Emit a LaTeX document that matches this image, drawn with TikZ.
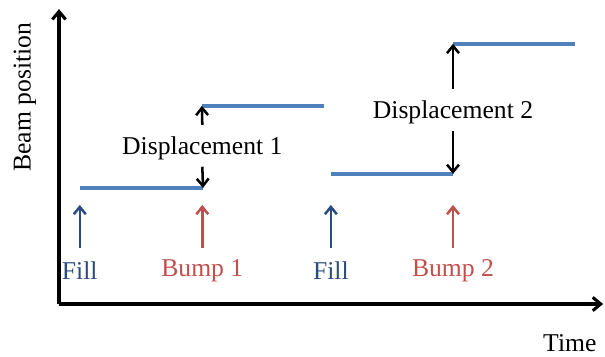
\documentclass[tikz,border=0pt]{standalone}
\usepackage{fontspec}
\setmainfont{Liberation Serif}
\usetikzlibrary{arrows.meta}
\definecolor{levelblue}{HTML}{4F81BD}
\definecolor{fillblue}{HTML}{2B4C7E}
\definecolor{bumpred}{HTML}{C0504D}
\begin{document}
\begin{tikzpicture}[
    % Define styles
    axis/.style={
        black,
        line width=2.3pt,
        -{Straight Barb[length=6pt,width=10pt]}
    },
    level/.style={
        levelblue,
        line width=2.8pt
    },
    fillarrow/.style={
        fillblue,
        line width=1.9pt,
        -{Straight Barb[length=5.5pt,width=9pt]}
    },
    bumparrow/.style={
        fillarrow,
        bumpred
    },
    disparrow/.style={
        black,
        line width=1.9pt,
        -{Straight Barb[length=5.5pt,width=9pt]}
    },
    label_text/.style={
        font=\fontsize{19.3}{23}\selectfont,
        inner sep=1pt
    }
]

    % Frame of the picture
    \useasboundingbox (-1.56,-1.375) rectangle (14.44,8.04);

    % --- Axes ---
    \coordinate (origin) at (0,0);
    \coordinate (ytop) at (0,7.80);
    \coordinate (xtip) at (14.39,0);
    \draw[axis] (origin) -- (ytop);
    \draw[axis] (origin) -- (xtip);
    \node[label_text, rotate=90] (ylabel) at (-0.90,5.47) {Beam position};
    \node[label_text] (xlabel) at (13.51,-1.03) {Time};

    % --- Beam levels ---
    \coordinate (a1) at (0.55,3.07);
    \coordinate (a2) at (3.81,3.07);
    \coordinate (b1) at (3.78,5.24);
    \coordinate (b2) at (7.01,5.24);
    \coordinate (c1) at (7.19,3.44);
    \coordinate (c2) at (10.42,3.44);
    \coordinate (d1) at (10.42,6.88);
    \coordinate (d2) at (13.65,6.88);
    \draw[level] (a1) -- (a2);
    \draw[level] (b1) -- (b2);
    \draw[level] (c1) -- (c2);
    \draw[level] (d1) -- (d2);

    % --- Fill and bump events ---
    \node[label_text, text=fillblue] (fill1) at (0.55,0.88) {Fill};
    \node[label_text, text=bumpred] (bump1) at (3.79,0.88) {Bump 1};
    \node[label_text, text=fillblue] (fill2) at (7.19,0.88) {Fill};
    \node[label_text, text=bumpred] (bump2) at (10.42,0.88) {Bump 2};
    \foreach \ev/\x in {fill1/0.55, bump1/3.79, fill2/7.19, bump2/10.42} {
        \coordinate (\ev-lo) at (\x,1.48);
        \coordinate (\ev-hi) at (\x,2.62);
    }
    \draw[fillarrow] (fill1-lo) -- (fill1-hi);
    \draw[bumparrow] (bump1-lo) -- (bump1-hi);
    \draw[fillarrow] (fill2-lo) -- (fill2-hi);
    \draw[bumparrow] (bump2-lo) -- (bump2-hi);

    % --- Displacements ---
    \node[label_text] (disp1) at (3.79,4.13) {Displacement 1};
    \coordinate (d1up) at (3.79,4.74);
    \coordinate (d1dn) at (3.79,3.63);
    \draw[disparrow] (d1up) -- (b1);
    \draw[disparrow] (d1dn) -- (a2);

    \node[label_text] (disp2) at (10.42,5.08) {Displacement 2};
    \coordinate (d2up) at (10.42,5.69);
    \coordinate (d2dn) at (10.42,4.58);
    \draw[disparrow] (d2up) -- (d1);
    \draw[disparrow] (d2dn) -- (c2);

\end{tikzpicture}
\end{document}
